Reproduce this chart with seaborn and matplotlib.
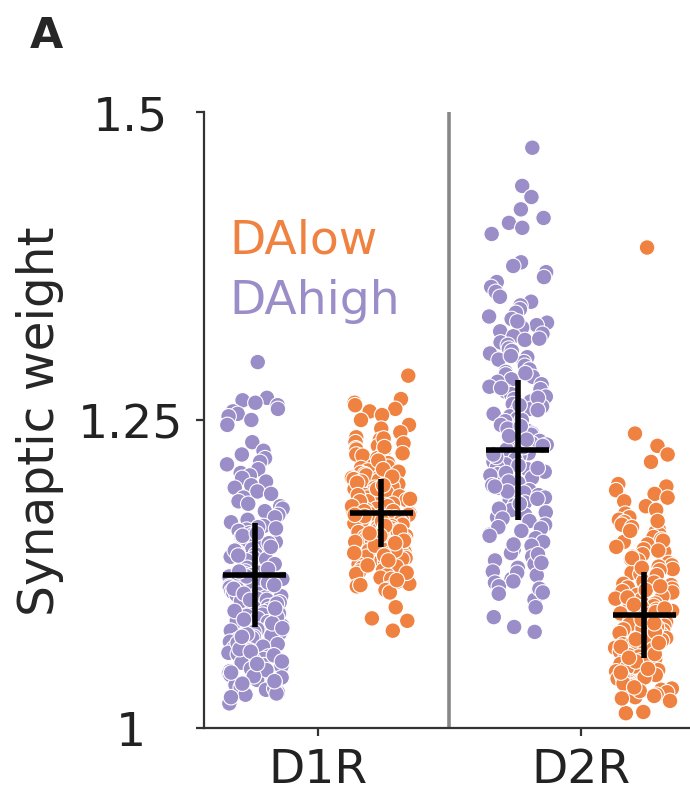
import numpy as np
import pandas as pd
import matplotlib
matplotlib.use("Agg")
import matplotlib.pyplot as plt
import seaborn as sns

# ---------------- data ----------------
receptors = ["D1R", "D2R"]
conditions = ["DAhigh", "DAlow"]
colors = {"DAhigh": "#9B8EC8", "DAlow": "#EF8240"}

d1r_high = [1.297, 1.268, 1.266, 1.264, 1.262, 1.259, 1.257, 1.255, 1.253, 1.250, 1.246, 1.232,
            1.225, 1.222, 1.219, 1.216, 1.214, 1.210, 1.207, 1.205, 1.203, 1.200, 1.197, 1.195, 1.192, 1.190,
            1.187, 1.184, 1.182, 1.180, 1.178, 1.176, 1.173, 1.171, 1.169, 1.167,
            1.164, 1.163, 1.161, 1.160, 1.158, 1.157, 1.155, 1.154, 1.152, 1.151, 1.149, 1.148, 1.146,
            1.145, 1.143, 1.142, 1.141, 1.139, 1.138, 1.136, 1.135, 1.134, 1.132, 1.131, 1.130, 1.128,
            1.127, 1.126, 1.125, 1.124, 1.123, 1.122, 1.121, 1.121, 1.120, 1.119, 1.118, 1.117, 1.116, 1.115,
            1.114, 1.113, 1.112, 1.111, 1.110, 1.109, 1.108, 1.107, 1.106, 1.105, 1.104, 1.103, 1.102,
            1.100, 1.099, 1.098, 1.097, 1.096, 1.094, 1.093, 1.092, 1.091, 1.089, 1.088, 1.087, 1.086,
            1.084, 1.083, 1.082, 1.080, 1.079, 1.078, 1.077, 1.075, 1.074, 1.073, 1.072, 1.071, 1.070,
            1.068, 1.066, 1.065, 1.063, 1.061, 1.060, 1.058, 1.056, 1.055, 1.053, 1.051, 1.050, 1.048,
            1.046, 1.044, 1.043, 1.041, 1.039, 1.037, 1.035, 1.033, 1.031, 1.029, 1.027, 1.020,
            1.162, 1.156, 1.150, 1.144, 1.137, 1.133, 1.129, 1.123, 1.118, 1.113, 1.109, 1.104, 1.101,
            1.095, 1.090, 1.085, 1.081, 1.076, 1.069, 1.064, 1.059, 1.054, 1.047, 1.042, 1.036, 1.032,
            1.028, 1.025, 1.140, 1.116, 1.097, 1.088, 1.074, 1.062, 1.052, 1.045, 1.038, 1.158, 1.147, 1.127]

d1r_low = [1.286, 1.098, 1.089, 1.087, 1.079,
           1.267, 1.264, 1.262, 1.259, 1.257, 1.254, 1.250, 1.246, 1.243, 1.240,
           1.236, 1.234, 1.232, 1.231, 1.229, 1.227, 1.226, 1.224, 1.222, 1.221, 1.219, 1.218, 1.216,
           1.215, 1.213, 1.212, 1.211, 1.209, 1.208, 1.207, 1.206, 1.205, 1.204, 1.203, 1.202,
           1.201, 1.200, 1.199, 1.198, 1.197, 1.196, 1.195, 1.194, 1.193, 1.192, 1.191, 1.190, 1.189,
           1.188, 1.187, 1.186, 1.185, 1.184, 1.183, 1.182, 1.181, 1.180, 1.179, 1.178, 1.178, 1.177,
           1.176, 1.175, 1.174, 1.174, 1.173, 1.172, 1.171, 1.171, 1.170, 1.169, 1.168, 1.167, 1.166, 1.165,
           1.164, 1.163, 1.162, 1.161, 1.160, 1.159, 1.158, 1.157, 1.156, 1.155, 1.154, 1.153, 1.152,
           1.151, 1.150, 1.149, 1.148, 1.147, 1.146, 1.145, 1.144, 1.143, 1.142, 1.141, 1.140, 1.139,
           1.138, 1.137, 1.136, 1.135,
           1.133, 1.131, 1.130, 1.128, 1.127, 1.125, 1.124, 1.122, 1.121, 1.119, 1.117, 1.115, 1.113,
           1.112, 1.110,
           1.235, 1.228, 1.223, 1.217, 1.210, 1.204, 1.199, 1.194, 1.189, 1.184, 1.180, 1.176, 1.172,
           1.168, 1.164, 1.160, 1.156, 1.152, 1.148, 1.144, 1.140, 1.136, 1.132, 1.126, 1.120, 1.116,
           1.197, 1.186, 1.173, 1.158, 1.150, 1.142]

d2r_high = [1.471, 1.440, 1.431, 1.421, 1.414, 1.410, 1.406, 1.401,
            1.378, 1.375, 1.370, 1.366, 1.362, 1.358, 1.354, 1.350, 1.346, 1.343, 1.340,
            1.337, 1.334, 1.332, 1.329, 1.327, 1.325, 1.322, 1.320, 1.318, 1.315, 1.313, 1.311, 1.308,
            1.306, 1.304, 1.301, 1.299, 1.297, 1.294, 1.291,
            1.289, 1.287, 1.285, 1.283, 1.281, 1.279, 1.277, 1.275, 1.273, 1.271, 1.269, 1.267, 1.265,
            1.263, 1.261, 1.259, 1.257, 1.255, 1.253, 1.251, 1.249, 1.247, 1.246, 1.244, 1.242, 1.241,
            1.239, 1.238, 1.236, 1.235, 1.233, 1.232, 1.231, 1.230,
            1.229, 1.227, 1.226, 1.224, 1.223, 1.221, 1.219, 1.218, 1.216, 1.214, 1.212, 1.210, 1.208,
            1.206, 1.205, 1.203, 1.201, 1.199, 1.197, 1.195, 1.193, 1.191, 1.189, 1.187, 1.185, 1.183,
            1.181, 1.179, 1.177, 1.175, 1.173, 1.171,
            1.168, 1.165, 1.162, 1.160, 1.157, 1.154, 1.151, 1.148, 1.145, 1.142, 1.139, 1.136, 1.133,
            1.130, 1.127, 1.124, 1.121, 1.118, 1.115, 1.112, 1.109,
            1.104, 1.098, 1.090, 1.082, 1.078,
            1.330, 1.316, 1.302, 1.288, 1.276, 1.268, 1.258, 1.250, 1.243, 1.237, 1.228, 1.220, 1.213,
            1.207, 1.200, 1.192, 1.186, 1.178, 1.170, 1.163, 1.156, 1.149, 1.141, 1.134, 1.126, 1.119,
            1.113, 1.262, 1.245, 1.234, 1.222, 1.211, 1.196, 1.182, 1.110]

d2r_low = [1.390, 1.239, 1.229, 1.222, 1.216, 1.198,
           1.196, 1.193, 1.190, 1.187, 1.184, 1.180, 1.177, 1.174,
           1.171, 1.169, 1.167, 1.165, 1.163, 1.161, 1.159, 1.157, 1.155, 1.153, 1.151, 1.149, 1.147,
           1.145, 1.143, 1.141, 1.139, 1.137, 1.136, 1.134, 1.132, 1.131,
           1.129, 1.128, 1.126, 1.125, 1.123, 1.122, 1.120, 1.119, 1.117, 1.116, 1.114, 1.113, 1.111,
           1.110, 1.108, 1.107, 1.105, 1.104, 1.102, 1.101, 1.099, 1.098, 1.096, 1.095, 1.093, 1.092,
           1.090, 1.089, 1.087, 1.086, 1.084, 1.083, 1.081, 1.080,
           1.079, 1.077, 1.076, 1.074, 1.073, 1.071, 1.070, 1.068, 1.067, 1.065, 1.064, 1.062, 1.061,
           1.059, 1.058, 1.056, 1.055, 1.053, 1.052, 1.050, 1.049, 1.047, 1.046, 1.044, 1.043, 1.041,
           1.040, 1.038, 1.037, 1.035, 1.034, 1.032, 1.031, 1.029, 1.027, 1.025, 1.022,
           1.013, 1.012,
           1.168, 1.160, 1.152, 1.144, 1.138, 1.130, 1.124, 1.118, 1.112, 1.106, 1.100, 1.094, 1.088,
           1.082, 1.078, 1.072, 1.066, 1.060, 1.054, 1.048, 1.042, 1.036, 1.030, 1.026, 1.024,
           1.115, 1.097, 1.085, 1.069, 1.057, 1.045, 1.033]

# mean +/- sd crosses as drawn in the figure (D1R high, D1R low, D2R high, D2R low)
cross_means = [1.124, 1.1745, 1.2256, 1.0917]
cross_sds = [0.042, 0.0275, 0.057, 0.035]

y_ticks = [1.0, 1.25, 1.5]
y_ticklabels = ["1", "1.25", "1.5"]

# ---------------- build table ----------------
groups = {("D1R", "DAhigh"): d1r_high, ("D1R", "DAlow"): d1r_low,
          ("D2R", "DAhigh"): d2r_high, ("D2R", "DAlow"): d2r_low}
rows = []
for (rec, cond), vals in groups.items():
    for v in vals:
        rows.append((rec, cond, v))
df = pd.DataFrame(rows, columns=["receptor", "condition", "weight"])

# ---------------- plot ----------------
sns.set_style("ticks")
plt.rcParams["font.family"] = ["DejaVu Sans"]

fig = plt.figure(figsize=(6.9, 8.03), dpi=100)
ax = fig.add_axes([204 / 690, 74 / 803, 486 / 690, 616 / 803])

np.random.seed(3)
sns.stripplot(data=df, x="receptor", y="weight", hue="condition",
              order=receptors, hue_order=conditions, palette=colors,
              dodge=True, jitter=0.185, size=11.2, edgecolor="white",
              linewidth=0.8, legend=False, ax=ax, zorder=2)

# widen the dodge (hue offset 0.24 instead of 0.2)
for coll in ax.collections:
    off = coll.get_offsets()
    if len(off) == 0:
        continue
    off = np.asarray(off).copy()
    cat = np.round(off[:, 0].mean())
    off[:, 0] = cat + (off[:, 0] - cat) * 1.2
    coll.set_offsets(off)

# mean +/- sd crosses
hue_shift = {"DAhigh": -0.24, "DAlow": 0.24}
xs = [receptors.index(r) + hue_shift[c] for r in receptors for c in conditions]
ax.errorbar(xs, cross_means, yerr=cross_sds, xerr=0.12, fmt="none",
            ecolor="black", elinewidth=4, capsize=0, zorder=5)

# separator
ax.axvline(0.5, color="#888888", lw=2.6, zorder=1)

ax.set_xlim(-0.433, 1.414)
ax.set_ylim(1.0, 1.5)
ax.set_yticks(y_ticks)
ax.set_yticklabels(y_ticklabels)
ax.set_xlabel("")
ax.set_ylabel("Synaptic weight", fontsize=35, labelpad=10)

for side in ["top", "right"]:
    ax.spines[side].set_visible(False)
for side in ["left", "bottom"]:
    ax.spines[side].set_linewidth(1.6)
    ax.spines[side].set_color("#333333")

ax.tick_params(axis="both", labelsize=34, width=1.6, length=6, color="#333333",
               labelcolor="#222222")
ax.tick_params(axis="y", pad=47)
ax.tick_params(axis="x", pad=8)
for lab in ax.get_yticklabels():
    lab.set_horizontalalignment("center")

# legend-like texts
ax.text(-0.335, 1.386, "DAlow", color=colors["DAlow"], fontsize=34,
        ha="left", va="baseline")
ax.text(-0.335, 1.337, "DAhigh", color=colors["DAhigh"], fontsize=34,
        ha="left", va="baseline")

fig.text(30 / 690, 1 - 48 / 803, "A", fontsize=31, fontweight="bold",
         ha="left", va="baseline")

fig.savefig("out.png", dpi=100)
